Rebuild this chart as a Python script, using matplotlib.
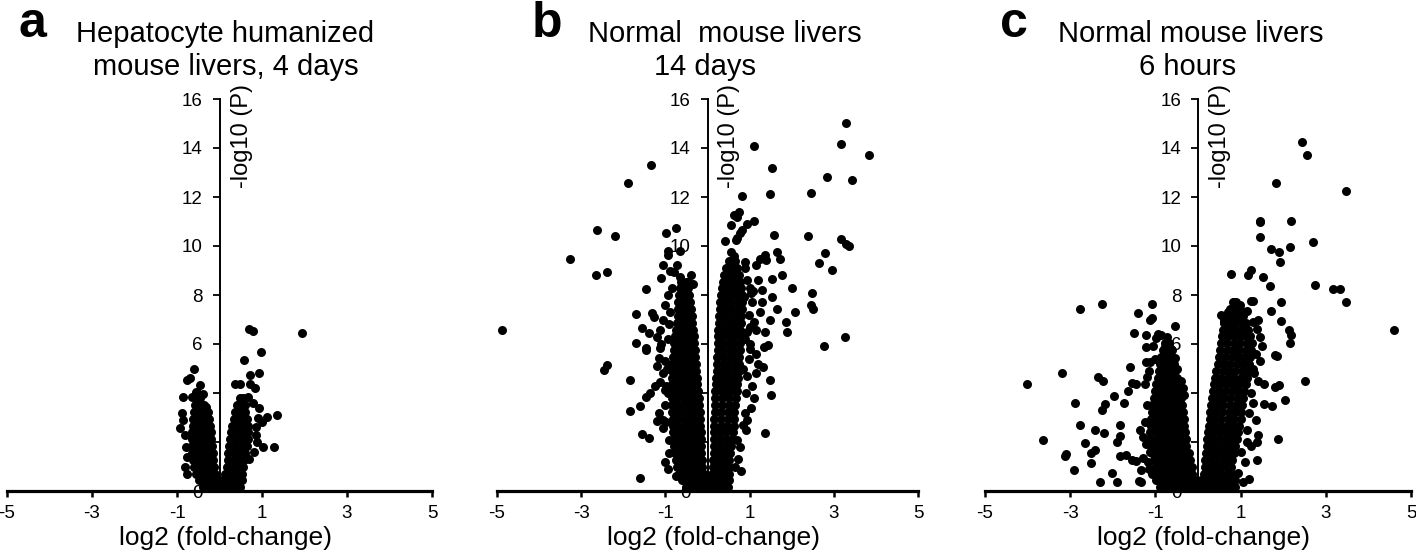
import numpy as np
import matplotlib.pyplot as plt

plt.rcParams['font.family'] = ['Liberation Sans', 'DejaVu Sans']
plt.rcParams['axes.unicode_minus'] = False

# dense part of each volcano: rows of (-log10 P, [log2 fold-change, ...])
a_core = [
    (0.15, [-0.38, -0.25, -0.12, 0.01, 0.14, 0.27, 0.40, 0.48]),
    (0.43, [-0.48, -0.36, -0.24, -0.12, -0.02, 0.08, 0.20, 0.32, 0.44, 0.52]),
    (0.71, [-0.56, -0.44, -0.32, -0.20, -0.10, 0.12, 0.24, 0.36, 0.48, 0.54]),
    (0.99, [-0.61, -0.49, -0.37, -0.25, -0.14, 0.18, 0.31, 0.44, 0.56]),
    (1.27, [-0.63, -0.51, -0.39, -0.27, -0.15, 0.20, 0.33, 0.46, 0.58]),
    (1.55, [-0.64, -0.52, -0.40, -0.28, -0.16, 0.21, 0.34, 0.47, 0.61]),
    (1.83, [-0.65, -0.53, -0.41, -0.29, -0.18, 0.23, 0.37, 0.50, 0.64]),
    (2.11, [-0.65, -0.53, -0.42, -0.30, -0.19, 0.25, 0.39, 0.52, 0.66]),
    (2.39, [-0.65, -0.54, -0.43, -0.32, -0.21, 0.27, 0.41, 0.55, 0.68]),
    (2.67, [-0.63, -0.52, -0.41, -0.30, -0.23, 0.30, 0.43, 0.56, 0.67]),
    (2.95, [-0.62, -0.50, -0.38, -0.25, 0.33, 0.45, 0.57, 0.65]),
    (3.23, [-0.60, -0.48, -0.37, -0.27, 0.37, 0.48, 0.59]),
    (3.51, [-0.58, -0.47, -0.36, 0.42, 0.54, 0.60]),
    (3.79, [-0.55, -0.45, 0.48, 0.55]),
]
a_pts = [
    (1.93, 6.44), (0.70, 6.60), (0.78, 6.54), (0.98, 5.69), (0.58, 5.35),
    (0.94, 4.83), (0.72, 4.73), (0.37, 4.37), (0.48, 4.37), (0.71, 4.36),
    (0.84, 4.20), (0.66, 3.85), (0.94, 3.37), (1.11, 3.03), (1.35, 3.10),
    (1.00, 2.83), (1.02, 1.81), (1.28, 1.81), (0.86, 2.30), (0.80, 1.60),
    (0.85, 2.60), (0.90, 3.00), (0.78, 3.60), (0.88, 2.00), (0.70, 1.30),
    (-0.59, 5.00), (-0.76, 4.53), (-0.69, 4.60), (-0.46, 4.33), (-0.87, 3.85),
    (-0.65, 3.85), (-0.32, 3.44), (-0.89, 3.17), (-0.85, 2.90), (-0.93, 2.56),
    (-0.81, 2.29), (-0.79, 1.81), (-0.76, 1.40), (-0.81, 1.00), (-0.76, 0.69),
    (-0.55, 4.05), (-0.40, 3.95),
]

b_core = [
    (0.15, [-0.50, -0.37, -0.24, -0.11, 0.02, 0.15, 0.28, 0.41, 0.48]),
    (0.43, [-0.60, -0.47, -0.34, -0.21, -0.08, 0.05, 0.18, 0.31, 0.44, 0.50]),
    (0.71, [-0.68, -0.55, -0.42, -0.29, -0.16, -0.08, 0.10, 0.22, 0.34, 0.46, 0.50]),
    (0.99, [-0.73, -0.60, -0.47, -0.34, -0.22, -0.14, 0.14, 0.26, 0.38, 0.50]),
    (1.27, [-0.75, -0.62, -0.49, -0.36, -0.24, -0.14, 0.14, 0.27, 0.40, 0.52]),
    (1.55, [-0.77, -0.64, -0.51, -0.38, -0.26, -0.15, 0.15, 0.28, 0.41, 0.54]),
    (1.83, [-0.79, -0.66, -0.53, -0.40, -0.27, -0.15, 0.15, 0.29, 0.43, 0.56]),
    (2.11, [-0.80, -0.67, -0.54, -0.41, -0.28, -0.16, 0.15, 0.29, 0.44, 0.58]),
    (2.39, [-0.81, -0.68, -0.55, -0.42, -0.29, -0.16, 0.15, 0.30, 0.45, 0.60]),
    (2.67, [-0.82, -0.69, -0.56, -0.43, -0.30, -0.17, 0.16, 0.31, 0.47, 0.62]),
    (2.95, [-0.83, -0.70, -0.57, -0.44, -0.31, -0.18, 0.16, 0.32, 0.48, 0.63]),
    (3.23, [-0.84, -0.71, -0.58, -0.45, -0.32, -0.19, 0.17, 0.33, 0.49, 0.64]),
    (3.51, [-0.85, -0.72, -0.59, -0.46, -0.33, -0.20, 0.18, 0.34, 0.50, 0.66]),
    (3.79, [-0.85, -0.72, -0.59, -0.47, -0.34, -0.21, 0.19, 0.35, 0.51, 0.67]),
    (4.07, [-0.85, -0.72, -0.60, -0.47, -0.35, -0.22, 0.19, 0.32, 0.45, 0.57, 0.69]),
    (4.35, [-0.85, -0.72, -0.60, -0.48, -0.36, -0.24, 0.20, 0.33, 0.46, 0.58, 0.71]),
    (4.63, [-0.85, -0.73, -0.61, -0.49, -0.37, -0.26, 0.21, 0.34, 0.47, 0.60, 0.73]),
    (4.91, [-0.85, -0.73, -0.61, -0.50, -0.38, -0.27, 0.22, 0.35, 0.48, 0.62, 0.75]),
    (5.19, [-0.84, -0.72, -0.61, -0.50, -0.39, -0.28, 0.22, 0.36, 0.49, 0.63, 0.76]),
    (5.47, [-0.82, -0.71, -0.60, -0.50, -0.39, -0.29, 0.23, 0.36, 0.50, 0.63, 0.76]),
    (5.75, [-0.80, -0.70, -0.60, -0.50, -0.40, -0.30, 0.24, 0.37, 0.50, 0.64, 0.77]),
    (6.03, [-0.79, -0.69, -0.59, -0.50, -0.40, -0.31, 0.24, 0.37, 0.50, 0.64, 0.77]),
    (6.31, [-0.77, -0.66, -0.54, -0.43, -0.32, 0.25, 0.38, 0.51, 0.64, 0.77]),
    (6.59, [-0.75, -0.65, -0.54, -0.44, -0.34, 0.26, 0.39, 0.52, 0.65, 0.78]),
    (6.87, [-0.73, -0.64, -0.54, -0.45, -0.36, 0.27, 0.40, 0.53, 0.66, 0.79]),
    (7.15, [-0.71, -0.62, -0.54, -0.46, -0.38, 0.28, 0.41, 0.54, 0.67, 0.80]),
    (7.43, [-0.70, -0.60, -0.50, -0.40, 0.29, 0.42, 0.56, 0.69, 0.82]),
    (7.71, [-0.69, -0.60, -0.51, -0.42, 0.30, 0.43, 0.57, 0.70, 0.83]),
    (7.99, [-0.68, -0.60, -0.52, -0.44, 0.32, 0.45, 0.57, 0.70, 0.82]),
    (8.27, [-0.66, -0.56, -0.46, 0.34, 0.46, 0.58, 0.69, 0.80]),
    (8.55, [-0.62, -0.50, 0.37, 0.47, 0.57, 0.67, 0.77]),
    (8.83, [0.40, 0.51, 0.63, 0.74]),
    (9.11, [0.43, 0.52, 0.61, 0.70]),
    (9.39, [0.50, 0.58, 0.65]),
]
b_pts = [
    (3.28, 15.03), (3.18, 14.16), (3.84, 13.71), (1.10, 14.10), (1.54, 13.18),
    (2.83, 12.80), (3.43, 12.69), (2.45, 12.16), (1.49, 12.12), (0.82, 12.03),
    (0.76, 11.40), (0.64, 11.27), (0.69, 11.17), (1.10, 11.02), (0.94, 10.88),
    (0.57, 10.84), (0.83, 10.65), (0.77, 10.52), (0.71, 10.34), (0.67, 10.24),
    (0.42, 10.19), (1.58, 10.45), (2.38, 10.41), (3.18, 10.30), (3.30, 10.08),
    (3.36, 10.01), (2.78, 9.70), (2.64, 9.29), (2.96, 9.01), (1.64, 9.76),
    (1.72, 9.48), (1.37, 9.63), (1.24, 9.46), (1.16, 9.22), (1.40, 9.43),
    (1.76, 8.80), (1.53, 8.65), (2.01, 8.27), (2.48, 8.07), (2.46, 7.59),
    (2.51, 7.41), (2.08, 7.29), (1.53, 7.90), (1.30, 8.20), (1.08, 8.18),
    (1.04, 8.07), (1.64, 7.41), (1.86, 6.88), (1.89, 6.50), (1.48, 6.98),
    (1.36, 6.50), (1.15, 6.57), (3.27, 6.27), (2.76, 5.93), (1.34, 5.89),
    (1.44, 5.96), (1.32, 5.07), (1.16, 4.80), (1.48, 4.53), (1.52, 3.92),
    (1.03, 3.37), (1.36, 2.35), (0.92, 2.49), (0.84, 2.69), (0.80, 0.83),
    (0.95, 8.60), (1.00, 8.30), (1.05, 7.70), (0.98, 7.20), (1.10, 6.90),
    (0.95, 6.50), (1.02, 6.00), (1.15, 5.60), (0.98, 5.40), (1.20, 5.20),
    (0.95, 4.70), (1.05, 4.30), (0.92, 4.00), (1.10, 3.80), (0.90, 3.20),
    (0.95, 2.90), (0.88, 9.10), (0.90, 9.35), (0.62, 9.60), (0.55, 9.75),
    (0.85, 5.00), (0.88, 6.20), (0.86, 7.90), (0.78, 1.80), (0.72, 1.30),
    (0.70, 2.10), (0.66, 1.00), (1.20, 8.60), (1.30, 7.70), (1.25, 7.30),
    (1.00, 6.70), (1.00, 5.80),
    (-4.88, 6.56), (-3.26, 9.46), (-2.63, 10.65), (-2.20, 10.41), (-2.65, 8.81),
    (-2.39, 8.95), (-1.89, 12.59), (-1.35, 13.32), (-1.45, 8.23), (-1.71, 7.22),
    (-1.33, 7.25), (-1.26, 7.12), (-1.56, 6.64), (-1.39, 6.44), (-1.21, 6.30),
    (-1.14, 6.57), (-1.69, 6.03), (-1.45, 5.82), (-1.47, 5.76), (-1.14, 5.82),
    (-1.15, 5.41), (-2.47, 4.94), (-2.39, 5.14), (-1.85, 4.53), (-1.12, 4.46),
    (-1.02, 4.12), (-0.94, 3.99), (-1.37, 4.01), (-1.45, 3.85), (-1.85, 3.28),
    (-1.60, 3.47), (-1.15, 3.17), (-1.21, 2.87), (-1.55, 2.33), (-1.40, 2.15),
    (-1.06, 2.90), (-1.06, 2.56), (-0.91, 2.08), (-0.91, 1.56), (-1.60, 0.52),
    (-0.76, 0.61),
    (-0.94, 9.81), (-0.94, 9.63), (-0.76, 10.72), (-0.98, 10.52), (-0.66, 9.81),
    (-1.06, 9.22), (-0.72, 9.22), (-0.66, 8.75), (-0.46, 8.54), (-0.34, 8.45),
    (-1.10, 8.68), (-0.80, 8.95), (-0.90, 9.00), (-0.85, 8.30), (-0.95, 8.00),
    (-0.40, 8.80), (-1.00, 7.60), (-1.05, 7.00), (-1.10, 6.00), (-1.00, 5.30),
    (-1.05, 4.80), (-0.98, 4.30), (-1.00, 3.50), (-0.98, 2.80), (-1.00, 1.20),
    (-0.95, 0.90), (-0.92, 6.80), (-0.95, 6.20), (-0.88, 7.30), (-0.97, 5.00),
    (-1.20, 5.10), (-1.25, 4.30),
]

c_core = [
    (0.15, [-0.90, -0.77, -0.64, -0.51, -0.38, -0.25, -0.12, 0.01, 0.14, 0.27, 0.40, 0.53, 0.66, 0.79, 0.88]),
    (0.43, [-0.98, -0.85, -0.72, -0.59, -0.46, -0.33, -0.20, -0.08, 0.08, 0.21, 0.34, 0.47, 0.60, 0.73, 0.86]),
    (0.71, [-0.97, -0.84, -0.71, -0.58, -0.45, -0.32, -0.20, -0.13, 0.15, 0.28, 0.41, 0.54, 0.67, 0.80]),
    (0.99, [-1.00, -0.87, -0.74, -0.61, -0.48, -0.35, -0.22, -0.15, 0.16, 0.29, 0.42, 0.55, 0.68, 0.78]),
    (1.27, [-1.04, -0.91, -0.78, -0.65, -0.52, -0.39, -0.27, -0.18, 0.17, 0.30, 0.43, 0.56, 0.69, 0.80]),
    (1.55, [-1.08, -0.95, -0.82, -0.69, -0.56, -0.44, -0.32, -0.22, 0.19, 0.32, 0.45, 0.58, 0.71, 0.84]),
    (1.83, [-1.11, -0.98, -0.85, -0.72, -0.60, -0.48, -0.37, -0.27, 0.21, 0.34, 0.47, 0.60, 0.74, 0.88]),
    (2.11, [-1.12, -0.99, -0.86, -0.73, -0.61, -0.49, -0.38, -0.29, 0.22, 0.36, 0.50, 0.64, 0.78, 0.92]),
    (2.39, [-1.12, -0.99, -0.86, -0.74, -0.62, -0.51, -0.40, -0.31, 0.24, 0.38, 0.52, 0.66, 0.80, 0.95]),
    (2.67, [-1.11, -0.98, -0.86, -0.74, -0.62, -0.51, -0.41, -0.33, 0.25, 0.39, 0.53, 0.68, 0.83, 0.97]),
    (2.95, [-1.10, -0.97, -0.85, -0.73, -0.62, -0.51, -0.42, -0.34, 0.27, 0.41, 0.55, 0.70, 0.85, 1.00]),
    (3.23, [-1.09, -0.97, -0.85, -0.73, -0.62, -0.52, -0.43, -0.35, 0.29, 0.43, 0.57, 0.72, 0.87, 1.02]),
    (3.51, [-1.07, -0.95, -0.83, -0.72, -0.61, -0.51, -0.42, -0.37, 0.31, 0.45, 0.59, 0.74, 0.89, 1.03]),
    (3.79, [-1.04, -0.92, -0.81, -0.70, -0.60, -0.50, -0.40, 0.34, 0.48, 0.62, 0.76, 0.91, 1.05]),
    (4.07, [-1.01, -0.89, -0.78, -0.68, -0.58, -0.49, -0.43, 0.36, 0.50, 0.64, 0.79, 0.94, 1.08]),
    (4.35, [-0.98, -0.87, -0.76, -0.66, -0.56, -0.46, 0.38, 0.52, 0.67, 0.82, 0.97, 1.12]),
    (4.63, [-0.95, -0.84, -0.74, -0.64, -0.55, -0.50, 0.40, 0.55, 0.70, 0.85, 1.00, 1.15]),
    (4.91, [-0.92, -0.82, -0.72, -0.62, -0.53, 0.43, 0.58, 0.73, 0.88, 1.03, 1.17]),
    (5.19, [-0.89, -0.79, -0.70, -0.62, -0.56, 0.46, 0.61, 0.76, 0.91, 1.06, 1.20]),
    (5.47, [-0.86, -0.77, -0.68, -0.60, 0.49, 0.64, 0.79, 0.94, 1.09, 1.23]),
    (5.75, [-0.83, -0.74, -0.64, 0.52, 0.67, 0.82, 0.97, 1.12, 1.25]),
    (6.03, [-0.78, -0.68, 0.54, 0.69, 0.84, 0.99, 1.14, 1.26]),
    (6.31, [0.56, 0.70, 0.84, 0.98, 1.12, 1.23]),
    (6.59, [0.58, 0.72, 0.86, 1.00, 1.12, 1.18]),
    (6.87, [0.62, 0.75, 0.88, 1.00, 1.12]),
    (7.15, [0.68, 0.80, 0.93, 1.05]),
    (7.43, [0.76, 0.87, 0.98]),
    (7.71, [0.84, 0.90]),
]
c_pts = [
    (2.45, 14.23), (2.55, 13.71), (1.82, 12.57), (3.48, 12.26), (1.45, 11.04),
    (1.45, 10.97), (2.19, 11.04), (1.45, 10.35), (1.72, 9.87), (1.91, 9.74),
    (1.93, 9.36), (2.15, 9.96), (2.70, 10.16), (0.78, 8.86), (1.17, 8.83),
    (1.25, 9.01), (1.52, 8.72), (1.70, 8.35), (2.75, 8.42), (3.18, 8.25),
    (3.34, 8.25), (3.48, 7.70), (1.95, 7.70), (1.72, 7.33), (1.95, 6.93),
    (2.13, 6.57), (2.19, 6.36), (2.16, 6.03), (4.61, 6.58), (1.80, 5.57),
    (1.85, 5.49), (2.50, 4.51), (1.56, 4.38), (1.80, 4.23), (1.89, 4.33),
    (1.56, 3.57), (1.73, 3.46), (2.05, 3.71), (1.88, 2.13), (1.38, 2.00),
    (1.41, 2.30), (1.39, 1.25), (1.25, 1.83),
    (0.82, 7.70), (0.82, 7.50), (0.90, 7.35), (1.05, 7.30), (1.15, 7.35),
    (1.25, 7.75), (1.30, 7.75), (1.40, 7.00), (1.30, 6.90), (1.45, 6.30),
    (1.50, 5.90), (1.45, 5.30), (1.30, 5.00), (1.40, 4.50), (1.25, 4.00),
    (1.30, 3.60), (1.20, 3.20), (1.35, 2.90), (1.15, 2.50), (0.60, 6.90),
    (0.55, 7.20), (0.70, 7.30), (1.05, 0.35), (1.20, 0.50), (0.95, 0.75),
    (1.10, 1.20), (1.00, 1.60), (1.15, 2.00), (0.62, 7.00), (1.38, 6.60),
    (1.35, 5.60), (1.32, 4.80), (0.98, 7.60),
    (-4.02, 4.36), (-3.63, 2.09), (-3.19, 4.80), (-2.77, 7.42), (-2.25, 7.64),
    (-3.13, 1.43), (-3.09, 1.50), (-2.91, 0.86), (-2.89, 3.58), (-2.77, 2.71),
    (-2.66, 1.94), (-2.52, 1.57), (-2.41, 1.67), (-2.52, 1.13), (-2.30, 0.35),
    (-2.41, 2.49), (-2.34, 4.65), (-2.23, 4.48), (-2.25, 3.32), (-2.19, 3.54),
    (-2.21, 2.38), (-1.97, 3.86), (-1.89, 0.35), (-2.01, 0.74), (-1.89, 2.01),
    (-1.82, 2.26), (-1.82, 2.70), (-1.84, 1.43), (-1.70, 1.48), (-1.73, 3.60),
    (-1.64, 4.07), (-1.60, 5.06), (-1.54, 4.39), (-1.45, 4.38), (-1.54, 1.25),
    (-1.45, 1.22), (-1.51, 6.46), (-1.42, 7.26), (-1.37, 2.51), (-1.33, 0.86),
    (-1.38, 0.42), (-1.33, 0.35), (-1.29, 1.36), (-1.25, 4.38), (-1.20, 4.64),
    (-1.13, 1.61), (-1.09, 0.70),
    (-1.09, 7.64), (-1.13, 6.97), (-1.08, 7.06), (-1.23, 6.36), (-1.21, 5.86),
    (-1.13, 5.28), (-1.21, 5.28), (-0.94, 6.40), (-0.88, 6.36), (-0.98, 6.23),
    (-0.78, 5.88), (-0.64, 5.81), (-0.55, 6.75), (-0.60, 5.74), (-0.53, 5.41),
    (-0.66, 5.52), (-0.40, 4.50), (-0.36, 4.20), (-0.33, 3.90), (-0.72, 6.30),
    (-0.50, 5.00), (-1.05, 5.90), (-1.15, 4.90), (-1.20, 3.50), (-1.25, 2.80),
    (-1.30, 2.20), (-1.22, 1.90), (-1.18, 1.20), (-1.15, 0.90), (-1.00, 5.40),
]

letters = ['a', 'b', 'c']
titles = [['Hepatocyte humanized', 'mouse livers, 4 days'],
          ['Normal  mouse livers', '14 days'],
          ['Normal mouse livers', '6 hours']]
xticks = [-5, -3, -1, 1, 3, 5]
yticks = list(range(0, 17, 2))

W, H = 1416, 556
fig = plt.figure(figsize=(W / 100, H / 100), dpi=100)

# axes boxes in pixels: left, width ; y=0 at 491 px, y=16 at 99 px
boxes = [(7, 425), (497, 421), (985, 426)]
title_x = [[225, 226], [725, 705], [1191, 1188]]
letter_x = [19, 532, 1000]

for i, (core, pts) in enumerate([(a_core, a_pts), (b_core, b_pts), (c_core, c_pts)]):
    left, width = boxes[i]
    ax = fig.add_axes([left / W, (H - 491) / H, width / W, 392 / H])
    xs = [x for y, row in core for x in row] + [p[0] for p in pts]
    ys = [y for y, row in core for x in row] + [p[1] for p in pts]
    ax.scatter(xs, ys, s=42, c='black', linewidths=0, zorder=3, clip_on=False)

    ax.set_xlim(-5, 5)
    ax.set_ylim(0, 16)
    ax.spines['top'].set_visible(False)
    ax.spines['right'].set_visible(False)
    ax.spines['left'].set_position(('data', 0))
    ax.spines['left'].set_linewidth(1.4)
    ax.spines['bottom'].set_linewidth(2.3)
    ax.set_xticks(xticks)
    ax.set_yticks(yticks)
    ax.tick_params(axis='x', direction='out', length=4, width=1.8, labelsize=13.5, pad=6)
    ax.tick_params(axis='y', direction='out', length=5, width=1.3, labelsize=13.5, pad=7)
    ax.patch.set_visible(False)

    ax.set_xlabel('log2 (fold-change)', fontsize=19)
    ax.xaxis.set_label_coords(0.514, -0.09)
    ax.text(0.52, 16.6, '-log10 (P)', rotation=90, ha='center', va='top', fontsize=17)

    fig.text(letter_x[i] / W, (H - 37) / H, letters[i], fontsize=36,
             fontweight='bold', ha='left', va='baseline')
    fig.text(title_x[i][0] / W, (H - 42) / H, titles[i][0], fontsize=21,
             ha='center', va='baseline')
    fig.text(title_x[i][1] / W, (H - 75) / H, titles[i][1], fontsize=21,
             ha='center', va='baseline')

fig.savefig('out.png', dpi=100)
